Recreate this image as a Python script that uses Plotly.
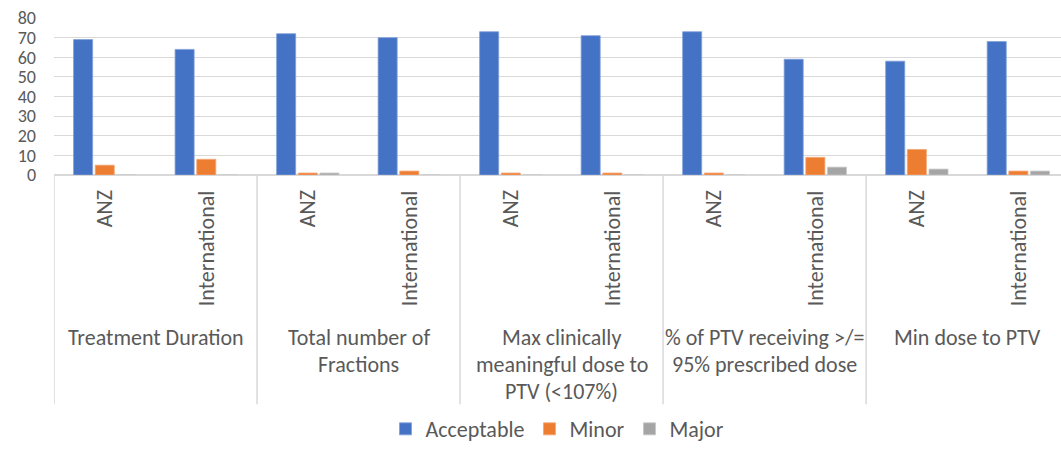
import plotly.graph_objects as go

# Plan quality review results by metric and region
metrics = [
    ["Treatment Duration"],
    ["Total number of", "Fractions"],
    ["Max clinically", "meaningful dose to", "PTV (<107%)"],
    ["% of PTV receiving >/=", "95% prescribed dose"],
    ["Min dose to PTV"],
]
regions = ["ANZ", "International"]

acceptable = [69, 64, 72, 70, 73, 71, 73, 59, 58, 68]
minor = [5, 8, 1, 2, 1, 1, 1, 9, 13, 2]
major = [0, 0, 1, 0, 0, 0, 0, 4, 3, 2]

y_ticks = [0, 10, 20, 30, 40, 50, 60, 70, 80]

FONT = "Carlito, Lato, sans-serif"
TEXT_COLOR = "#595959"
GRID = "#d9d9d9"
LABEL_SIZE = 22

slots = list(range(len(metrics) * len(regions)))

fig = go.Figure()
for name, vals, color, edge in [
    ("Acceptable", acceptable, "#4472C4", "#7f9fd8"),
    ("Minor", minor, "#ED7D31", "#f4a676"),
    ("Major", major, "#A5A5A5", "#c6c6c6"),
]:
    fig.add_trace(go.Bar(
        x=slots, y=vals, name=name,
        marker=dict(color=color, line=dict(color=edge, width=0.8)),
    ))

annotations = []
# region labels under each bar cluster
for i in slots:
    annotations.append(dict(
        x=i, y=0, xref="x", yref="paper", text=regions[i % len(regions)],
        textangle=-90, xanchor="center", yanchor="top", yshift=-13,
        showarrow=False, font=dict(family=FONT, size=LABEL_SIZE, color=TEXT_COLOR),
    ))
# metric labels centred under each pair of regions
for g, lines in enumerate(metrics):
    for k, line in enumerate(lines):
        annotations.append(dict(
            x=g * 2 + 0.5, y=0, xref="x", yref="paper", text=line,
            xanchor="center", yanchor="middle", yshift=-(162 + 27 * k),
            showarrow=False, font=dict(family=FONT, size=LABEL_SIZE, color=TEXT_COLOR),
        ))

# separators between metric groups
shapes = []
for g in range(len(metrics)):
    shapes.append(dict(
        type="line", xref="x", yref="paper", x0=g * 2 - 0.5, x1=g * 2 - 0.5,
        y0=-1.46, y1=0, line=dict(color=GRID, width=1.5),
    ))

fig.update_layout(
    width=1061, height=450,
    margin=dict(l=54, r=0, t=18, b=275, autoexpand=False),
    paper_bgcolor="white", plot_bgcolor="white",
    barmode="group", bargap=0.36, bargroupgap=0.12,
    font=dict(family=FONT, size=LABEL_SIZE, color=TEXT_COLOR),
    xaxis=dict(range=[-0.5, 9.42], showticklabels=False, showgrid=False,
               zeroline=False, showline=False, fixedrange=True),
    yaxis=dict(range=[0, 80], tickvals=y_ticks, showgrid=True, gridcolor=GRID,
               gridwidth=1, zeroline=True, zerolinecolor=GRID, zerolinewidth=2,
               showline=False, ticklabelstandoff=17,
               tickfont=dict(family=FONT, size=18, color=TEXT_COLOR)),
    legend=dict(orientation="h", x=0.5, xanchor="center", y=-1.752,
                yanchor="bottom", itemwidth=30,
                font=dict(family=FONT, size=LABEL_SIZE, color=TEXT_COLOR)),
    annotations=annotations, shapes=shapes,
)

fig.write_html("out.html")
